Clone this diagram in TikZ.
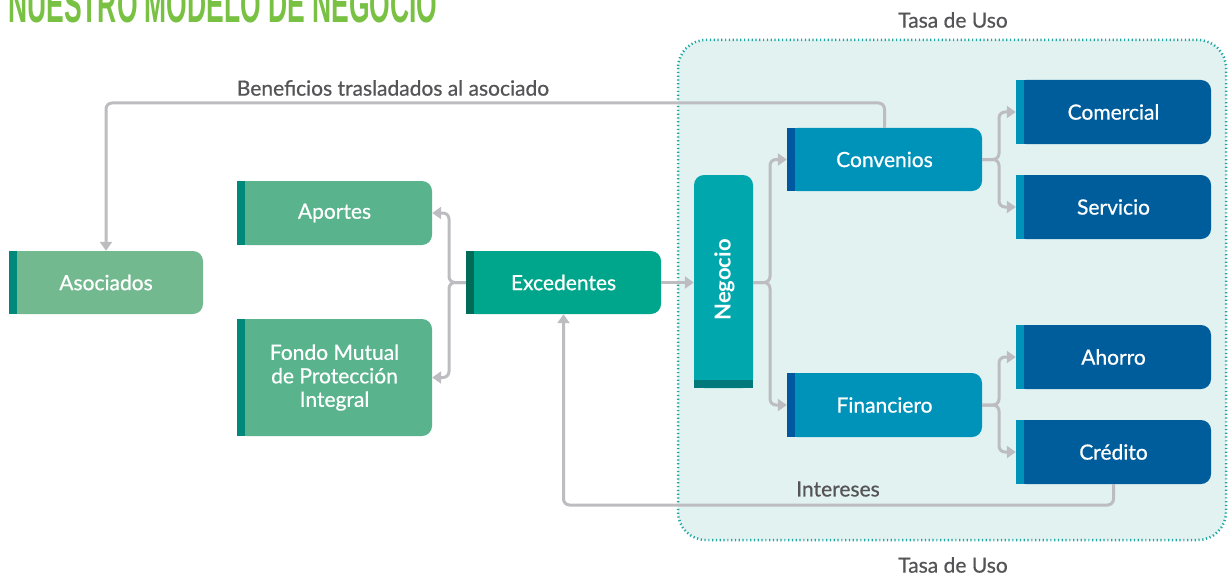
\documentclass[tikz,border=0pt]{standalone}
\usepackage{fontspec}
\setmainfont{Lato}
\newfontfamily\medfont{Lato}[FakeBold=0.7]
\usetikzlibrary{arrows.meta,calc}
\definecolor{titlegreen}{HTML}{78C142}
\definecolor{asocfill}{HTML}{73B990}
\definecolor{aportfill}{HTML}{59B38D}
\definecolor{greenstripe}{HTML}{00897A}
\definecolor{excfill}{HTML}{00A68C}
\definecolor{excstripe}{HTML}{006B57}
\definecolor{negfill}{HTML}{00A8AE}
\definecolor{negstripe}{HTML}{00797B}
\definecolor{convfill}{HTML}{0093BA}
\definecolor{convstripe}{HTML}{0058A0}
\definecolor{comfill}{HTML}{005D9C}
\definecolor{comstripe}{HTML}{0093BA}
\definecolor{regionfill}{HTML}{E2F2F1}
\definecolor{regionline}{HTML}{1CA7A1}
\definecolor{connc}{HTML}{BDBDC1}
\definecolor{labelgray}{HTML}{555557}
\tikzset{
  boxtxt/.style={rounded corners=10pt, text=white, align=center, inner sep=0pt,
    font=\medfont\fontsize{21}{23.5}\selectfont},
  conn/.style={draw=connc, line width=3pt, rounded corners=6pt,
    -{Triangle[width=12pt,length=9pt]}},
  lbl/.style={text=labelgray, font=\medfont\fontsize{21}{24}\selectfont, inner sep=0pt},
  region/.style={fill=regionfill, draw=regionline, line width=2.5pt,
    dash pattern=on 1.2pt off 2.6pt, rounded corners=28pt}
}
\newcommand\mkbox[8]{%
  \node[boxtxt, fill=#6, minimum width=#4pt, minimum height=#5pt] (#1) at (#2,#3) {#8};
  \fill[#6] (#1.south west) rectangle ([xshift=20pt]#1.north west);
  \fill[#7] (#1.south west) rectangle ([xshift=8pt]#1.north west);
}
\begin{document}
\begin{tikzpicture}[x=1pt,y=1pt]
\useasboundingbox (0,0) rectangle (1228,-575);
% title
\node[anchor=base west, text=titlegreen, inner sep=0pt] (title) at (8,-23)
  {\scalebox{0.509}[1]{\fontspec{Liberation Sans}\bfseries\fontsize{52}{52}\selectfont NUESTRO MODELO DE NEGOCIO}};
% region
\path[region] (678,-40) rectangle (1226,-540);
\node[lbl] (tasa1) at (953,-20) {Tasa de Uso};
\node[lbl] (tasa2) at (953,-565) {Tasa de Uso};
% boxes
\mkbox{asoc}{106}{-282.5}{194}{63}{asocfill}{greenstripe}{Asociados}
\mkbox{aport}{334.5}{-213}{195}{64}{aportfill}{greenstripe}{Aportes}
\mkbox{fondo}{334.5}{-377.5}{195}{117}{aportfill}{greenstripe}{Fondo Mutual\\de Protección\\Integral}
\mkbox{exc}{563.5}{-282.5}{195}{63}{excfill}{excstripe}{Excedentes}
\mkbox{conv}{884.5}{-159.5}{195}{63}{convfill}{convstripe}{Convenios}
\mkbox{fin}{884.5}{-405}{195}{64}{convfill}{convstripe}{Financiero}
\mkbox{com}{1113.5}{-112}{195}{64}{comfill}{comstripe}{Comercial}
\mkbox{serv}{1113.5}{-207}{195}{64}{comfill}{comstripe}{Servicio}
\mkbox{aho}{1113.5}{-357}{195}{64}{comfill}{comstripe}{Ahorro}
\mkbox{cred}{1113.5}{-452}{195}{64}{comfill}{comstripe}{Crédito}
% Negocio vertical box
\node[boxtxt, fill=negfill, minimum width=59pt, minimum height=213pt] (neg) at (723.5,-281.5) {};
\fill[negfill] (neg.south west) rectangle ([yshift=20pt]neg.south east);
\fill[negstripe] (neg.south west) rectangle ([yshift=8pt]neg.south east);
\node[text=white, rotate=90, font=\fontsize{22}{24}\selectfont\bfseries] (negtxt) at (724.5,-280) {Negocio};
% connectors
\coordinate (j1) at (449,-282.5);
\draw[conn] (exc.west) -- (j1) |- (aport.east);
\draw[conn] (exc.west) -- (j1) |- (fondo.east);
\draw[conn] (exc.east) -- (neg.west |- exc.east);
\coordinate (j2) at (770,-282.5);
\draw[conn] (neg.east |- exc.east) -- (j2) |- (conv.west);
\draw[conn] (neg.east |- exc.east) -- (j2) |- (fin.west);
\coordinate (j3) at (999,-159.5);
\draw[conn] (conv.east) -- (j3) |- (com.west);
\draw[conn] (conv.east) -- (j3) |- (serv.west);
\coordinate (j4) at (999,-405);
\draw[conn] (fin.east) -- (j4) |- (aho.west);
\draw[conn] (fin.east) -- (j4) |- (cred.west);
\coordinate (b1) at (106,-103);
\draw[conn] (conv.north) |- (b1) -- (asoc.north);
\node[lbl] (benef) at (393,-88) {Beneficios trasladados al asociado};
\coordinate (i1) at (563.5,-505);
\draw[conn] (cred.south) |- (i1) -- (exc.south);
\node[lbl] (inter) at (838,-489) {Intereses};
\end{tikzpicture}
\end{document}
